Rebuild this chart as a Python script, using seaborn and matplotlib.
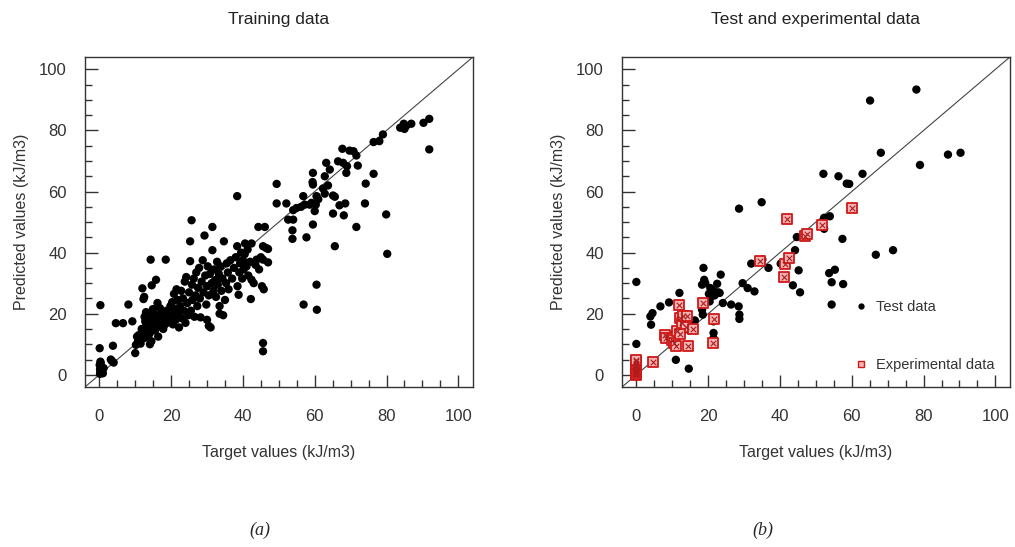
import matplotlib
matplotlib.use("Agg")
import matplotlib.pyplot as plt
from matplotlib.ticker import MultipleLocator
from matplotlib.lines import Line2D
import seaborn as sns
import pandas as pd

# training data (target, predicted)
train_target = [
    0.2, 0.3, 0.2, 0.5, 0.1, 0.4, 0.6, 0.8, 0.3, 1.0, 1.2, 0.1, 0.3, 3.5, 4.0, 3.8, 3.2,
    4.6, 6.6, 8.1, 9.2, 10.0, 10.2, 10.5, 11.0, 10.8, 11.5, 12.0, 12.3, 12.5, 11.8, 12.2, 12.5,
    12.8, 13.0, 13.2, 13.5, 13.8, 14.0, 14.2, 14.3, 14.5, 14.6, 14.8, 15.0, 15.2, 15.3, 15.5,
    15.8, 15.8, 16.0, 16.2, 16.5, 16.8, 17.0, 17.3, 17.5, 18.0, 18.5, 18.3, 18.8, 19.0, 19.5,
    19.8, 13.6, 14.1, 16.4, 17.8, 13.0, 12.6, 14.9, 16.9,
    20.0, 20.3, 20.5, 20.8, 21.0, 21.3, 21.5, 21.8, 22.0, 22.2, 22.5, 22.8, 23.0, 23.3, 23.5,
    23.8, 24.0, 24.2, 24.5, 24.8, 25.0, 25.3, 25.3, 25.5, 25.7, 25.8, 26.0, 26.3, 26.5, 26.8,
    27.0, 27.3, 27.5, 27.8, 28.0, 28.2, 28.5, 28.8, 29.0, 29.3, 29.5, 29.8, 30.0, 30.2, 30.5,
    30.8, 30.0, 30.5, 31.0, 31.3,
    31.5, 31.5, 31.8, 32.0, 32.3, 32.5, 32.8, 33.0, 33.3, 33.5, 33.5, 33.8, 34.0, 34.3, 34.7,
    34.5, 35.0, 35.3, 35.5, 35.8, 36.0, 36.5, 37.0, 37.5, 38.0, 38.4, 38.4, 38.5, 38.8, 39.0,
    39.2, 39.5, 39.8, 40.0, 40.2, 40.6, 40.5, 41.0, 41.3, 41.5, 42.0, 42.2, 42.4, 42.4, 43.0,
    43.5, 43.8, 44.3, 44.5, 45.0, 45.3, 45.6, 45.6, 45.6, 45.6, 45.8, 46.1, 46.5, 47.0, 47.0,
    49.4, 49.4, 52.1, 52.6, 53.8, 53.8, 54.0, 54.0, 54.9, 56.2, 56.8, 56.9, 57.2, 57.7, 58.6,
    59.1, 59.4, 59.5, 59.5, 59.5, 60.0, 60.3, 60.5, 60.5, 60.6, 61.0,
    62.3, 62.8, 62.8, 63.2, 63.7, 64.2, 65.1, 65.1, 65.6, 65.6, 66.5, 66.9, 67.7, 67.9, 68.1,
    68.5, 68.8, 69.0, 69.7, 70.8, 71.6, 71.6, 72.0, 74.0, 74.2, 76.4, 76.4, 78.0, 79.0, 79.9,
    80.2,
    83.8, 84.8, 85.0, 85.5, 86.9, 90.3, 91.9, 91.9,
]
train_pred = [
    0.3, 1.0, 1.8, 2.5, 3.2, 3.8, 0.8, 1.5, 4.3, 0.5, 2.2, 8.7, 22.8, 4.5, 4.0, 9.5, 5.0,
    16.9, 16.9, 23.0, 17.5, 7.1, 9.8, 12.5, 13.0, 11.0, 10.2, 28.3, 24.8, 25.5, 15.0, 14.0, 12.0,
    17.5, 16.0, 18.5, 15.0, 19.5, 13.5, 17.0, 37.7, 11.0, 29.3, 15.5, 18.0, 20.0, 16.5, 14.5,
    31.1, 19.0, 17.5, 23.5, 15.8, 18.8, 16.2, 20.5, 17.8, 19.2, 37.7, 16.5, 21.0, 18.0, 17.2,
    22.5, 12.8, 10.0, 12.5, 15.0, 20.5, 19.0, 21.5, 21.8,
    19.5, 23.8, 16.5, 26.5, 21.5, 18.0, 28.0, 24.5, 20.0, 15.5, 22.5, 27.5, 18.5, 25.0, 21.0,
    30.5, 17.0, 32.0, 23.5, 19.5, 27.0, 43.7, 37.2, 21.0, 50.6, 29.5, 24.5, 31.5, 19.0, 26.0,
    33.5, 22.5, 28.5, 35.0, 25.0, 18.8, 30.5, 37.5, 27.0, 45.6, 32.5, 23.0, 29.0, 35.5, 26.0,
    33.0, 18.0, 16.0, 15.5, 30.0,
    40.8, 48.4, 27.5, 34.5, 31.0, 25.5, 37.0, 29.5, 33.0, 22.5, 20.0, 35.5, 27.5, 31.5, 43.7,
    19.5, 24.5, 30.0, 36.5, 33.5, 28.0, 37.5, 31.5, 35.0, 38.5, 58.5, 42.1, 29.0, 26.2, 33.5,
    36.5, 40.0, 31.5, 37.5, 34.5, 43.0, 39.5, 35.5, 41.0, 32.5, 37.0, 24.8, 43.0, 31.1, 30.0,
    36.0, 37.7, 48.4, 34.5, 38.5, 29.0, 42.1, 37.7, 10.4, 7.7, 28.0, 48.4, 41.5, 41.2, 36.8,
    62.5, 56.1, 56.1, 50.8, 47.3, 44.5, 53.9, 50.8, 54.6, 55.0, 58.5, 23.0, 55.7, 45.0, 55.7,
    56.3, 63.1, 66.1, 62.3, 49.2, 53.6, 55.7, 58.5, 29.5, 21.3, 57.5,
    61.0, 59.3, 65.0, 69.4, 62.0, 67.2, 58.7, 52.8, 58.3, 42.1, 69.9, 55.5, 74.0, 69.4, 52.2,
    56.1, 66.1, 68.3, 73.4, 73.2, 71.8, 48.4, 68.5, 56.1, 62.6, 65.8, 76.2, 76.5, 78.7, 52.5,
    39.6,
    80.9, 82.2, 80.5, 81.5, 82.2, 82.5, 83.8, 73.8,
]

# test data, right panel
test_target = [
    0.0, 0.0, 3.9, 4.5, 4.1, 6.7, 9.1, 11.0, 12.0, 14.6, 13.2, 14.0, 14.8, 15.5, 16.3, 10.5,
    10.0, 18.7, 18.9, 19.2, 18.3, 18.3, 18.5, 20.6, 20.2, 20.8, 20.4, 21.5, 22.5, 22.8, 23.2,
    21.8, 23.5, 24.1, 26.4, 28.5, 28.7, 28.7, 28.6, 29.6, 31.0, 32.0, 32.9, 34.9, 35.1, 36.8,
    21.5, 21.5, 21.5, 40.2, 43.6, 44.2, 44.7, 45.2, 45.6, 52.1, 52.3, 52.3, 53.9, 53.7, 54.4,
    54.4, 55.3, 56.3, 57.4, 57.6, 58.6, 59.3, 63.0, 65.1, 66.7, 68.1, 71.5, 78.0, 79.0, 86.8,
    90.3,
]
test_pred = [
    30.4, 10.1, 19.1, 20.2, 16.4, 22.4, 23.7, 4.9, 26.8, 2.0, 16.0, 17.5, 14.5, 17.0, 17.8, 12.5,
    13.0, 35.0, 31.1, 30.0, 29.5, 21.3, 19.7, 28.4, 26.5, 25.5, 24.0, 27.5, 29.8, 27.0, 26.8,
    26.0, 32.8, 23.5, 23.0, 22.4, 19.7, 18.3, 54.4, 30.0, 28.4, 36.4, 27.3, 56.5, 37.7, 35.0,
    13.7, 12.0, 17.5, 36.4, 29.3, 40.8, 45.1, 34.2, 27.0, 65.8, 51.4, 47.8, 51.9, 33.3, 30.3,
    23.0, 34.4, 65.0, 44.5, 29.7, 62.6, 62.5, 65.8, 89.8, 39.3, 72.7, 40.8, 93.4, 68.7, 72.1,
    72.7,
]

# experimental data, right panel
exp_target = [
    0.0, 0.0, 0.0, 0.0, 0.0, 0.0, 0.0, 0.0, 0.0, 0.0, 0.0, 0.0, 0.0,
    4.6, 8.1, 8.3, 9.9, 10.4, 11.0, 11.3, 12.0, 12.1, 12.7, 13.0, 14.1, 14.4, 13.9, 15.9, 12.2,
    18.5, 21.5, 21.3, 34.5, 41.0, 41.4, 42.4, 42.1, 47.0, 47.5, 51.6, 60.1,
]
exp_pred = [
    0.0, 0.4, 0.8, 1.2, 1.6, 2.0, 2.4, 2.8, 3.2, 3.6, 4.0, 4.4, 4.8,
    4.2, 13.1, 12.0, 11.5, 10.4, 9.3, 14.2, 23.0, 18.6, 16.9, 19.1, 19.3, 9.5, 15.8, 15.0, 13.5,
    23.5, 18.3, 10.4, 37.2, 32.0, 36.4, 38.3, 51.0, 45.6, 46.1, 48.9, 54.6,
]

train = pd.DataFrame({"target": train_target, "pred": train_pred})
test = pd.DataFrame({"target": test_target, "pred": test_pred})
exp = pd.DataFrame({"target": exp_target, "pred": exp_pred})

sns.set_style("ticks")
plt.rcParams["font.family"] = ["Liberation Sans", "DejaVu Sans"]

txt = "#333333"
red_edge = "#d01818"
red_face = "#f2b4b4"

fig = plt.figure(figsize=(10.15, 5.47), dpi=100)
ax1 = fig.add_axes([0.0837, 0.2925, 0.382, 0.603])
ax2 = fig.add_axes([0.6128, 0.2925, 0.382, 0.603])

sns.scatterplot(data=train, x="target", y="pred", ax=ax1, color="black",
                s=36, edgecolor="none", legend=False)

sns.scatterplot(data=test, x="target", y="pred", ax=ax2, color="black",
                s=36, edgecolor="none", legend=False)
sns.scatterplot(data=exp, x="target", y="pred", ax=ax2, marker="s",
                color=red_face, edgecolor=red_edge, linewidth=1.3, s=52, legend=False)
sns.scatterplot(data=exp, x="target", y="pred", ax=ax2, marker="x",
                color="#b01c1c", linewidth=0.8, s=16, legend=False)

for ax, title in [(ax1, "Training data"), (ax2, "Test and experimental data")]:
    ax.axline((0, 0), slope=1, color="#444444", lw=0.8, zorder=0)
    ax.set_xlim(-4, 104)
    ax.set_ylim(-4, 104)
    ax.set_xticks(range(0, 101, 20))
    ax.set_yticks(range(0, 101, 20))
    ax.xaxis.set_minor_locator(MultipleLocator(5))
    ax.yaxis.set_minor_locator(MultipleLocator(5))
    ax.tick_params(which="major", direction="in", length=9, width=1, color=txt,
                   labelsize=12, labelcolor=txt)
    ax.tick_params(which="minor", direction="in", length=5, width=1, color=txt)
    ax.tick_params(axis="x", which="major", pad=16)
    ax.tick_params(axis="y", which="major", pad=13)
    for sp in ax.spines.values():
        sp.set_visible(True)
        sp.set_color(txt)
        sp.set_linewidth(1)
    ax.set_xlabel("Target values (kJ/m3)", fontsize=11.5, color=txt, labelpad=15)
    ax.set_ylabel("Predicted values (kJ/m3)", fontsize=11.5, color=txt, labelpad=7)
    ax.set_title(title, fontsize=12.5, color="#222222", pad=24)

handles = [
    Line2D([], [], marker="o", color="black", linestyle="none", markersize=3.5),
    Line2D([], [], marker="s", markerfacecolor=red_face, markeredgecolor=red_edge,
           linestyle="none", markersize=5, markeredgewidth=1),
]
ax2.legend(handles, ["Test data", "Experimental data"], loc="lower left",
           bbox_to_anchor=(0.56, 0.005), frameon=False, labelspacing=3.0,
           handletextpad=0.4, handlelength=1.2, fontsize=10.5, labelcolor=txt)

fig.text(0.256, 0.022, "(a)", fontsize=13, style="italic",
         family=["Liberation Serif", "DejaVu Serif"], ha="center")
fig.text(0.752, 0.022, "(b)", fontsize=13, style="italic",
         family=["Liberation Serif", "DejaVu Serif"], ha="center")

fig.savefig("out.png", dpi=100)
